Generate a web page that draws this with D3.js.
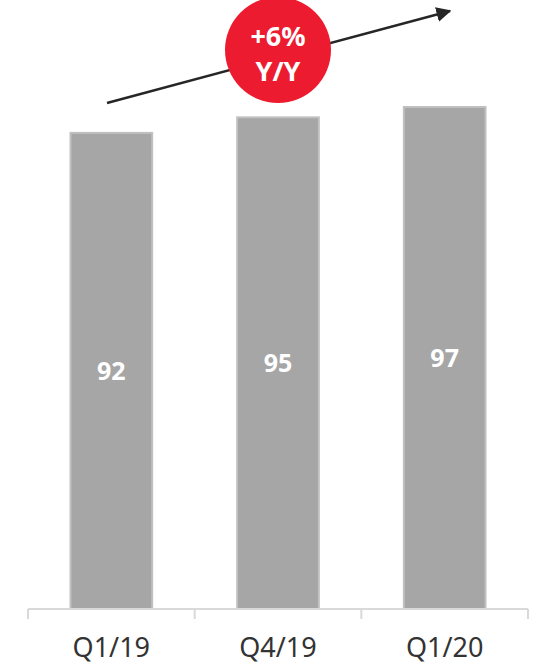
<!DOCTYPE html>
<html>
<head>
<meta charset="utf-8">
<script src="https://cdn.jsdelivr.net/npm/d3@7"></script>
<style>
  body { margin: 0; background: #fff; }
  svg { display: block; font-family: "Noto Sans", sans-serif; }
</style>
</head>
<body>
<svg width="533" height="664"></svg>
<script>
var quarters = ["Q1/19", "Q4/19", "Q1/20"];
var values = [92, 95, 97];
var growthLines = ["+6%", "Y/Y"];

var svg = d3.select("svg");
var base = 609;

var x = d3.scaleBand()
    .domain(quarters)
    .range([28, 528])
    .paddingInner(0.51)
    .paddingOuter(0.255);

var y = d3.scaleLinear()
    .domain([0, 97])
    .range([base, 107]);

// bars
svg.selectAll("rect.bar")
    .data(values)
    .enter().append("rect")
    .attr("class", "bar")
    .attr("x", function (d, i) { return x(quarters[i]); })
    .attr("y", function (d) { return y(d); })
    .attr("width", x.bandwidth())
    .attr("height", function (d) { return base - y(d); })
    .attr("fill", "#a6a6a6")
    .attr("stroke", "#c0c0c0")
    .attr("stroke-width", 2);

svg.selectAll("text.val")
    .data(values)
    .enter().append("text")
    .attr("class", "val")
    .attr("x", function (d, i) { return x(quarters[i]) + x.bandwidth() / 2; })
    .attr("y", function (d) { return (y(d) + base) / 2; })
    .attr("dy", "0.35em")
    .attr("text-anchor", "middle")
    .attr("fill", "#fff")
    .attr("font-weight", "bold")
    .attr("font-size", 25)
    .text(function (d) { return d; });

// axis: baseline with ticks between bands
var edges = quarters.map(function (q) { return x(q) - x.step() * x.paddingInner() / 2; });
edges.push(edges[edges.length - 1] + x.step());

svg.append("line")
    .attr("x1", edges[0]).attr("x2", edges[edges.length - 1])
    .attr("y1", base).attr("y2", base)
    .attr("stroke", "#d9d9d9").attr("stroke-width", 2);

svg.selectAll("line.tick")
    .data(edges)
    .enter().append("line")
    .attr("class", "tick")
    .attr("x1", function (d) { return d; })
    .attr("x2", function (d) { return d; })
    .attr("y1", base).attr("y2", base + 10)
    .attr("stroke", "#d9d9d9").attr("stroke-width", 2);

svg.selectAll("text.cat")
    .data(quarters)
    .enter().append("text")
    .attr("class", "cat")
    .attr("x", function (d) { return x(d) + x.bandwidth() / 2; })
    .attr("y", 657)
    .attr("text-anchor", "middle")
    .attr("fill", "#333")
    .attr("font-size", 27)
    .text(function (d) { return d; });

// growth arrow
svg.append("defs").append("marker")
    .attr("id", "head")
    .attr("viewBox", "0 0 10 10")
    .attr("refX", 9).attr("refY", 5)
    .attr("markerWidth", 6).attr("markerHeight", 6)
    .attr("markerUnits", "strokeWidth")
    .attr("orient", "auto")
    .append("path")
    .attr("d", "M0,0 L10,5 L0,10 z")
    .attr("fill", "#262626");

svg.append("line")
    .attr("x1", 107).attr("y1", 103)
    .attr("x2", 450).attr("y2", 11)
    .attr("stroke", "#262626")
    .attr("stroke-width", 2.5)
    .attr("marker-end", "url(#head)");

svg.append("circle")
    .attr("cx", 278).attr("cy", 50).attr("r", 53)
    .attr("fill", "#ed1b2f");

svg.selectAll("text.growth")
    .data(growthLines)
    .enter().append("text")
    .attr("class", "growth")
    .attr("x", 278)
    .attr("y", function (d, i) { return 46 + i * 35; })
    .attr("text-anchor", "middle")
    .attr("fill", "#fff")
    .attr("font-weight", "bold")
    .attr("font-size", 27)
    .text(function (d) { return d; });
</script>
</body>
</html>
